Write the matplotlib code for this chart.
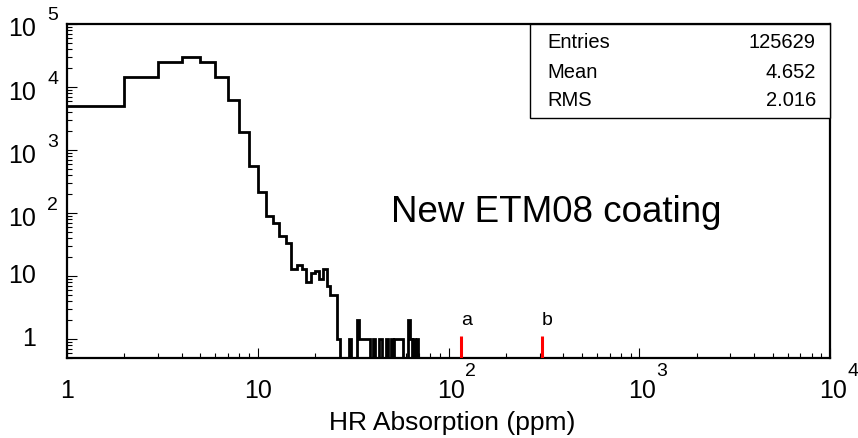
import numpy as np
import matplotlib
matplotlib.use('Agg')
import matplotlib.pyplot as plt
from matplotlib.ticker import LogLocator, NullFormatter, FixedLocator
from matplotlib.transforms import offset_copy, blended_transform_factory
import matplotlib.patches as mpatches

plt.rcParams['font.family'] = ['Liberation Sans', 'DejaVu Sans']

# ---------------- data ----------------
bin_edges = list(range(1, 71))  # 1-ppm bins from 1 to 70 ppm
counts = [5020, 14600, 25200, 30400, 25000, 14600, 6300, 1900, 557, 214,
          91, 70, 43, 33, 13, 15, 13, 8, 11, 12,
          9, 13, 7, 5, 5, 1, 0, 0, 0, 1,
          0, 0, 2, 1, 1, 1, 1, 1, 0, 1,
          0, 0, 1, 1, 0, 0, 1, 0, 0, 1,
          0, 1, 1, 1, 1, 1, 1, 0, 0, 0,
          2, 2, 1, 0, 1, 1, 0, 1, 0]
marker_x = [116, 309]
marker_labels = ['a', 'b']
marker_top = 1.12
stats_names = ['Entries', 'Mean', 'RMS']
stats_values = ['125629', '4.652', '2.016']
x_decades = [0, 1, 2, 3, 4]
y_decades = [0, 1, 2, 3, 4, 5]
x_title = 'HR Absorption (ppm)'
annotation = 'New ETM08 coating'

# ---------------- figure ----------------
W, H = 858, 438
fig = plt.figure(figsize=(W / 100, H / 100), dpi=100)
L, R, T, B = 67, 830, 24, 358
ax = fig.add_axes([L / W, 1 - B / H, (R - L) / W, (B - T) / H])
ax.set_xscale('log')
ax.set_yscale('log', nonpositive='clip')
ax.set_xlim(1, 1e4)
ax.set_ylim(0.5, 1e5)

ax.stairs(np.array(counts, dtype=float), np.array(bin_edges, dtype=float),
          baseline=None, color='black', linewidth=2.0)

ax.vlines(marker_x, 0.5, marker_top, colors='#ff0000', linewidth=2.2, zorder=3)
for xm, lab in zip(marker_x, marker_labels):
    ax.text(xm, 1.45, lab, ha='left', va='bottom', fontsize=14)

for s in ax.spines.values():
    s.set_linewidth(1.6)

ax.tick_params(which='major', direction='in', length=7.5, width=0.8,
               top=False, right=False)
ax.tick_params(which='minor', direction='in', length=3.8, width=0.8,
               top=False, right=False)
ax.xaxis.set_major_locator(FixedLocator([10.0 ** d for d in x_decades]))
ax.yaxis.set_major_locator(FixedLocator([10.0 ** d for d in y_decades]))
ax.xaxis.set_minor_locator(LogLocator(base=10, subs=np.arange(2, 10), numticks=20))
ax.yaxis.set_minor_locator(LogLocator(base=10, subs=np.arange(2, 10), numticks=20))
ax.xaxis.set_major_formatter(NullFormatter())
ax.yaxis.set_major_formatter(NullFormatter())
ax.xaxis.set_minor_formatter(NullFormatter())
ax.yaxis.set_minor_formatter(NullFormatter())

tick_fs = 18
exp_fs = 14
# y tick labels (ROOT style)
ytr = ax.get_yaxis_transform()
xr = (36 - L) / (R - L)
xe = (47 - L) / (R - L)
for d in y_decades:
    v = 10.0 ** d
    if d <= 1:
        ax.text(xr, v, '1' if d == 0 else '10', transform=ytr,
                ha='right', va='center', fontsize=tick_fs)
    else:
        ax.text(xr, v, '10', ha='right', va='center', fontsize=tick_fs,
                transform=offset_copy(ytr, fig=fig, x=0, y=-5.5, units='dots'))
        ax.text(xe, v, str(d), ha='left', va='center', fontsize=exp_fs,
                transform=offset_copy(ytr, fig=fig, x=0, y=8, units='dots'))

# x tick labels
xtr = blended_transform_factory(ax.transData, fig.transFigure)
for d in x_decades:
    v = 10.0 ** d
    if d <= 1:
        ax.text(v, 1 - 391 / H, '1' if d == 0 else '10', transform=xtr,
                ha='center', va='center', fontsize=tick_fs)
    else:
        ax.text(v, 1 - 391 / H, '10', ha='center', va='center', fontsize=tick_fs,
                transform=offset_copy(xtr, fig=fig, x=3, y=0, units='dots'))
        ax.text(v, 1 - 372 / H, str(d), ha='left', va='center', fontsize=exp_fs,
                transform=offset_copy(xtr, fig=fig, x=17, y=0, units='dots'),
                clip_on=False)

fig.text(452 / W, 1 - 423 / H, x_title, ha='center', va='center', fontsize=19)

ax.text((391 - L) / (R - L), (B - 221.7) / (B - T), annotation,
        transform=ax.transAxes, ha='left', va='baseline', fontsize=26.5)

# stats box
bx0, bx1, by0, by1 = 530, 830, 24, 118
fig.patches.append(mpatches.Rectangle((bx0 / W, 1 - by1 / H), (bx1 - bx0) / W,
                                      (by1 - by0) / H, transform=fig.transFigure,
                                      facecolor='white', edgecolor='black',
                                      linewidth=1.0, zorder=5))
row_y = [43, 72, 101]
for name, val, ry in zip(stats_names, stats_values, row_y):
    fig.text(547 / W, 1 - ry / H, name, ha='left', va='center', fontsize=14.5, zorder=6)
    fig.text(816 / W, 1 - ry / H, val, ha='right', va='center', fontsize=14.5, zorder=6)

fig.savefig('out.png', dpi=100)
